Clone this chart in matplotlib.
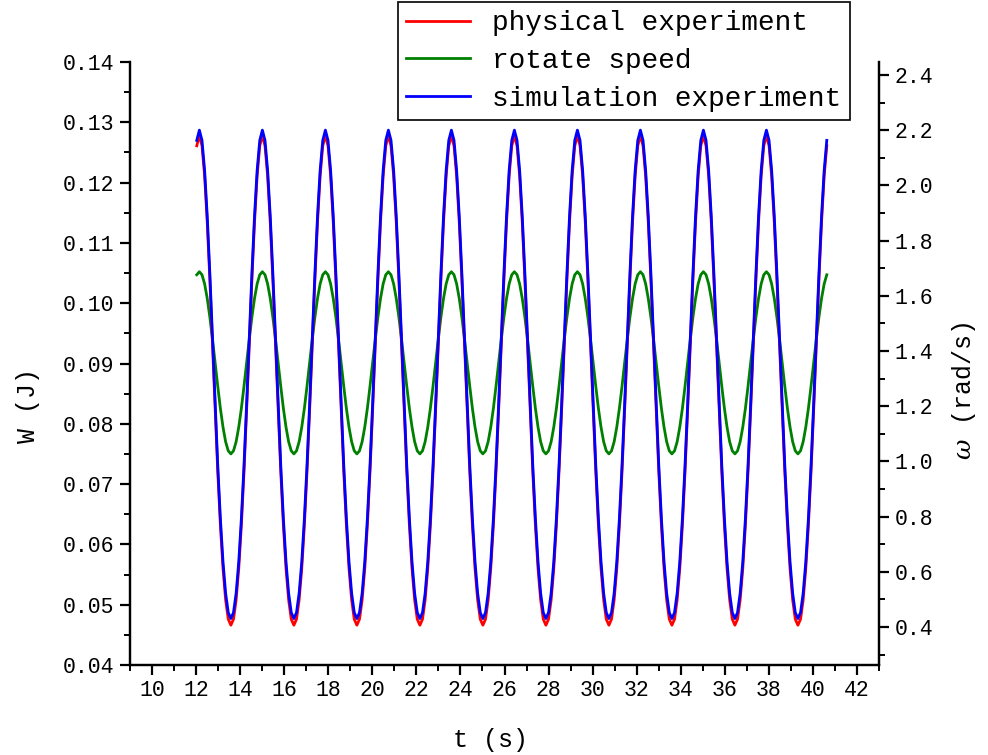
import numpy as np
import matplotlib
matplotlib.use("Agg")
import matplotlib.pyplot as plt
from matplotlib.ticker import MultipleLocator, FormatStrFormatter

plt.rcParams['font.family'] = ['Liberation Mono', 'DejaVu Serif']
plt.rcParams['mathtext.fontset'] = 'dejavuserif'

# time samples (s), evenly spaced, 24 per period
t = np.linspace(12.03, 40.63, 241)

# physical experiment W (J)
w_phys = [0.1261,
          0.1278, 0.1261, 0.1211, 0.1134, 0.1038, 0.0931, 0.0823, 0.0721, 0.0632, 0.0560, 0.0508, 0.0476, 0.0466, 0.0476, 0.0508, 0.0560, 0.0632, 0.0721, 0.0823, 0.0931, 0.1038, 0.1134, 0.1211, 0.1261,
          0.1278, 0.1261, 0.1211, 0.1134, 0.1038, 0.0931, 0.0823, 0.0721, 0.0632, 0.0560, 0.0508, 0.0476, 0.0466, 0.0476, 0.0508, 0.0560, 0.0632, 0.0721, 0.0823, 0.0931, 0.1038, 0.1134, 0.1211, 0.1261,
          0.1278, 0.1261, 0.1211, 0.1134, 0.1038, 0.0931, 0.0823, 0.0721, 0.0632, 0.0560, 0.0508, 0.0476, 0.0466, 0.0476, 0.0508, 0.0560, 0.0632, 0.0721, 0.0823, 0.0931, 0.1038, 0.1134, 0.1211, 0.1261,
          0.1278, 0.1261, 0.1211, 0.1134, 0.1038, 0.0931, 0.0823, 0.0721, 0.0632, 0.0560, 0.0508, 0.0476, 0.0466, 0.0476, 0.0508, 0.0560, 0.0632, 0.0721, 0.0823, 0.0931, 0.1038, 0.1134, 0.1211, 0.1261,
          0.1278, 0.1261, 0.1211, 0.1134, 0.1038, 0.0931, 0.0823, 0.0721, 0.0632, 0.0560, 0.0508, 0.0476, 0.0466, 0.0476, 0.0508, 0.0560, 0.0632, 0.0721, 0.0823, 0.0931, 0.1038, 0.1134, 0.1211, 0.1261,
          0.1278, 0.1261, 0.1211, 0.1134, 0.1038, 0.0931, 0.0823, 0.0721, 0.0632, 0.0560, 0.0508, 0.0476, 0.0466, 0.0476, 0.0508, 0.0560, 0.0632, 0.0721, 0.0823, 0.0931, 0.1038, 0.1134, 0.1211, 0.1261,
          0.1278, 0.1261, 0.1211, 0.1134, 0.1038, 0.0931, 0.0823, 0.0721, 0.0632, 0.0560, 0.0508, 0.0476, 0.0466, 0.0476, 0.0508, 0.0560, 0.0632, 0.0721, 0.0823, 0.0931, 0.1038, 0.1134, 0.1211, 0.1261,
          0.1278, 0.1261, 0.1211, 0.1134, 0.1038, 0.0931, 0.0823, 0.0721, 0.0632, 0.0560, 0.0508, 0.0476, 0.0466, 0.0476, 0.0508, 0.0560, 0.0632, 0.0721, 0.0823, 0.0931, 0.1038, 0.1134, 0.1211, 0.1261,
          0.1278, 0.1261, 0.1211, 0.1134, 0.1038, 0.0931, 0.0823, 0.0721, 0.0632, 0.0560, 0.0508, 0.0476, 0.0466, 0.0476, 0.0508, 0.0560, 0.0632, 0.0721, 0.0823, 0.0931, 0.1038, 0.1134, 0.1211, 0.1261,
          0.1278, 0.1261, 0.1211, 0.1134, 0.1038, 0.0931, 0.0823, 0.0721, 0.0632, 0.0560, 0.0508, 0.0476, 0.0466, 0.0476, 0.0508, 0.0560, 0.0632, 0.0721, 0.0823, 0.0931, 0.1038, 0.1134, 0.1211, 0.1261]

# simulation experiment W (J)
w_sim = [0.1270,
         0.1287, 0.1270, 0.1220, 0.1144, 0.1048, 0.0941, 0.0833, 0.0731, 0.0643, 0.0571, 0.0519, 0.0487, 0.0477, 0.0487, 0.0519, 0.0571, 0.0643, 0.0731, 0.0833, 0.0941, 0.1048, 0.1144, 0.1220, 0.1270,
         0.1287, 0.1270, 0.1220, 0.1144, 0.1048, 0.0941, 0.0833, 0.0731, 0.0643, 0.0571, 0.0519, 0.0487, 0.0477, 0.0487, 0.0519, 0.0571, 0.0643, 0.0731, 0.0833, 0.0941, 0.1048, 0.1144, 0.1220, 0.1270,
         0.1287, 0.1270, 0.1220, 0.1144, 0.1048, 0.0941, 0.0833, 0.0731, 0.0643, 0.0571, 0.0519, 0.0487, 0.0477, 0.0487, 0.0519, 0.0571, 0.0643, 0.0731, 0.0833, 0.0941, 0.1048, 0.1144, 0.1220, 0.1270,
         0.1287, 0.1270, 0.1220, 0.1144, 0.1048, 0.0941, 0.0833, 0.0731, 0.0643, 0.0571, 0.0519, 0.0487, 0.0477, 0.0487, 0.0519, 0.0571, 0.0643, 0.0731, 0.0833, 0.0941, 0.1048, 0.1144, 0.1220, 0.1270,
         0.1287, 0.1270, 0.1220, 0.1144, 0.1048, 0.0941, 0.0833, 0.0731, 0.0643, 0.0571, 0.0519, 0.0487, 0.0477, 0.0487, 0.0519, 0.0571, 0.0643, 0.0731, 0.0833, 0.0941, 0.1048, 0.1144, 0.1220, 0.1270,
         0.1287, 0.1270, 0.1220, 0.1144, 0.1048, 0.0941, 0.0833, 0.0731, 0.0643, 0.0571, 0.0519, 0.0487, 0.0477, 0.0487, 0.0519, 0.0571, 0.0643, 0.0731, 0.0833, 0.0941, 0.1048, 0.1144, 0.1220, 0.1270,
         0.1287, 0.1270, 0.1220, 0.1144, 0.1048, 0.0941, 0.0833, 0.0731, 0.0643, 0.0571, 0.0519, 0.0487, 0.0477, 0.0487, 0.0519, 0.0571, 0.0643, 0.0731, 0.0833, 0.0941, 0.1048, 0.1144, 0.1220, 0.1270,
         0.1287, 0.1270, 0.1220, 0.1144, 0.1048, 0.0941, 0.0833, 0.0731, 0.0643, 0.0571, 0.0519, 0.0487, 0.0477, 0.0487, 0.0519, 0.0571, 0.0643, 0.0731, 0.0833, 0.0941, 0.1048, 0.1144, 0.1220, 0.1270,
         0.1287, 0.1270, 0.1220, 0.1144, 0.1048, 0.0941, 0.0833, 0.0731, 0.0643, 0.0571, 0.0519, 0.0487, 0.0477, 0.0487, 0.0519, 0.0571, 0.0643, 0.0731, 0.0833, 0.0941, 0.1048, 0.1144, 0.1220, 0.1270,
         0.1287, 0.1270, 0.1220, 0.1144, 0.1048, 0.0941, 0.0833, 0.0731, 0.0643, 0.0571, 0.0519, 0.0487, 0.0477, 0.0487, 0.0519, 0.0571, 0.0643, 0.0731, 0.0833, 0.0941, 0.1048, 0.1144, 0.1220, 0.1270]

# rotate speed omega (rad/s)
omega = [1.676,
         1.687, 1.676, 1.643, 1.590, 1.522, 1.442, 1.357, 1.272, 1.192, 1.124, 1.071, 1.038, 1.027, 1.038, 1.071, 1.124, 1.192, 1.272, 1.357, 1.442, 1.522, 1.590, 1.643, 1.676,
         1.687, 1.676, 1.643, 1.590, 1.522, 1.442, 1.357, 1.272, 1.192, 1.124, 1.071, 1.038, 1.027, 1.038, 1.071, 1.124, 1.192, 1.272, 1.357, 1.442, 1.522, 1.590, 1.643, 1.676,
         1.687, 1.676, 1.643, 1.590, 1.522, 1.442, 1.357, 1.272, 1.192, 1.124, 1.071, 1.038, 1.027, 1.038, 1.071, 1.124, 1.192, 1.272, 1.357, 1.442, 1.522, 1.590, 1.643, 1.676,
         1.687, 1.676, 1.643, 1.590, 1.522, 1.442, 1.357, 1.272, 1.192, 1.124, 1.071, 1.038, 1.027, 1.038, 1.071, 1.124, 1.192, 1.272, 1.357, 1.442, 1.522, 1.590, 1.643, 1.676,
         1.687, 1.676, 1.643, 1.590, 1.522, 1.442, 1.357, 1.272, 1.192, 1.124, 1.071, 1.038, 1.027, 1.038, 1.071, 1.124, 1.192, 1.272, 1.357, 1.442, 1.522, 1.590, 1.643, 1.676,
         1.687, 1.676, 1.643, 1.590, 1.522, 1.442, 1.357, 1.272, 1.192, 1.124, 1.071, 1.038, 1.027, 1.038, 1.071, 1.124, 1.192, 1.272, 1.357, 1.442, 1.522, 1.590, 1.643, 1.676,
         1.687, 1.676, 1.643, 1.590, 1.522, 1.442, 1.357, 1.272, 1.192, 1.124, 1.071, 1.038, 1.027, 1.038, 1.071, 1.124, 1.192, 1.272, 1.357, 1.442, 1.522, 1.590, 1.643, 1.676,
         1.687, 1.676, 1.643, 1.590, 1.522, 1.442, 1.357, 1.272, 1.192, 1.124, 1.071, 1.038, 1.027, 1.038, 1.071, 1.124, 1.192, 1.272, 1.357, 1.442, 1.522, 1.590, 1.643, 1.676,
         1.687, 1.676, 1.643, 1.590, 1.522, 1.442, 1.357, 1.272, 1.192, 1.124, 1.071, 1.038, 1.027, 1.038, 1.071, 1.124, 1.192, 1.272, 1.357, 1.442, 1.522, 1.590, 1.643, 1.676,
         1.687, 1.676, 1.643, 1.590, 1.522, 1.442, 1.357, 1.272, 1.192, 1.124, 1.071, 1.038, 1.027, 1.038, 1.071, 1.124, 1.192, 1.272, 1.357, 1.442, 1.522, 1.590, 1.643, 1.676]

labels = ['physical experiment', 'rotate speed', 'simulation experiment']

fig = plt.figure(figsize=(9.88, 7.55), dpi=100)
ax = fig.add_axes([130/988, 90/755, 749/988, 603/755])
ax2 = ax.twinx()
# blue/red on top of green
ax.set_zorder(ax2.get_zorder() + 1)
ax.patch.set_visible(False)

l1, = ax.plot(t, w_phys, color='red', lw=2.0)
l3, = ax.plot(t, w_sim, color='blue', lw=2.0)
l2, = ax2.plot(t, omega, color='green', lw=2.0)

ax.set_xlim(9, 43)
ax.set_ylim(0.04, 0.14)
ax2.set_ylim(0.262, 2.447)

ax.xaxis.set_major_locator(MultipleLocator(2))
ax.xaxis.set_minor_locator(MultipleLocator(1))
ax.yaxis.set_major_locator(MultipleLocator(0.01))
ax.yaxis.set_minor_locator(MultipleLocator(0.005))
ax.yaxis.set_major_formatter(FormatStrFormatter('%.2f'))
ax2.yaxis.set_major_locator(MultipleLocator(0.2))
ax2.yaxis.set_minor_locator(MultipleLocator(0.1))
ax2.yaxis.set_major_formatter(FormatStrFormatter('%.1f'))

for a in (ax, ax2):
    a.spines['top'].set_visible(False)
    for s in a.spines.values():
        s.set_linewidth(1.6)
    a.tick_params(which='major', direction='out', length=7, width=1.6, labelsize=15.5, pad=4)
    a.tick_params(which='minor', direction='out', length=4, width=1.4)
ax.tick_params(axis='y', which='both', right=False)

ax.set_xlabel('t (s)', fontsize=18)
ax.set_ylabel('W (J)', fontsize=18)
ax2.set_ylabel(r'$\omega$ (rad/s)', fontsize=18)
ax.xaxis.set_label_coords(0.481, -0.104)
ax.yaxis.set_label_coords(-0.12, 0.43)
ax2.yaxis.set_label_coords(1.095, 0.455)

leg = fig.legend([l1, l2, l3], labels, loc='upper left',
                 bbox_to_anchor=(398/988, 1 - 2/755), borderaxespad=0,
                 fontsize=20, handlelength=2.3, handletextpad=0.8,
                 labelspacing=0.42, borderpad=0.3, fancybox=False,
                 framealpha=1, edgecolor='black')
leg.get_frame().set_linewidth(1.2)

fig.savefig('out.png', dpi=100)
